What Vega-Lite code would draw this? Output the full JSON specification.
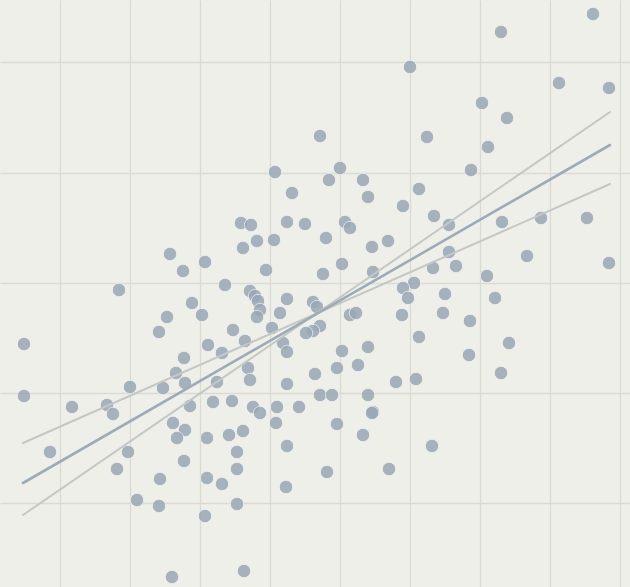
{
  "$schema": "https://vega.github.io/schema/vega-lite/v6.json",
  "width": 630,
  "height": 587,
  "autosize": {"type": "fit", "contains": "padding"},
  "padding": 0,
  "background": "#efefea",
  "config": {
    "view": {"stroke": null},
    "axis": {"labels": false, "ticks": false, "domain": false, "title": null, "grid": true, "gridWidth": 1.3}
  },
  "datasets": {
    "points": [
      {"x": 59.3, "y": 57.3}, {"x": 50.1, "y": 55.5}, {"x": 41.0, "y": 52.0}, {"x": 55.9, "y": 50.4},
      {"x": 60.9, "y": 49.9}, {"x": 48.2, "y": 48.4}, {"x": 50.7, "y": 46.9}, {"x": 32.0, "y": 45.1},
      {"x": 42.7, "y": 45.0}, {"x": 48.8, "y": 44.0}, {"x": 47.1, "y": 41.7}, {"x": 27.5, "y": 41.5},
      {"x": 34.0, "y": 41.9}, {"x": 32.9, "y": 40.7}, {"x": 36.3, "y": 40.7}, {"x": 29.2, "y": 39.4},
      {"x": 36.8, "y": 39.0}, {"x": 41.9, "y": 39.8}, {"x": 40.3, "y": 38.1}, {"x": 43.4, "y": 37.1},
      {"x": 44.9, "y": 36.2}, {"x": 50.2, "y": 36.5}, {"x": 54.1, "y": 36.9}, {"x": 58.7, "y": 36.9},
      {"x": 44.9, "y": 33.5}, {"x": 43.3, "y": 31.9}, {"x": 45.6, "y": 32.1}, {"x": 52.7, "y": 33.1},
      {"x": 60.9, "y": 32.4}, {"x": 48.7, "y": 31.1}, {"x": 44.5, "y": 29.3}, {"x": 49.5, "y": 28.9},
      {"x": 44.3, "y": 27.4}, {"x": 47.0, "y": 26.6}, {"x": 41.9, "y": 25.0}, {"x": 50.9, "y": 24.4},
      {"x": 46.9, "y": 23.2}, {"x": 50.1, "y": 21.4}, {"x": 41.6, "y": 20.8}, {"x": 39.6, "y": 20.5},
      {"x": 43.2, "y": 14.1}, {"x": 41.4, "y": 30.4}, {"x": 40.3, "y": 29.9}, {"x": 40.8, "y": 28.9},
      {"x": 40.2, "y": 27.2}, {"x": 24.1, "y": 36.4}, {"x": 25.1, "y": 36.2}, {"x": 28.7, "y": 36.5},
      {"x": 30.5, "y": 36.3}, {"x": 34.5, "y": 36.5}, {"x": 35.0, "y": 35.9}, {"x": 24.3, "y": 33.9},
      {"x": 25.7, "y": 34.6}, {"x": 27.4, "y": 34.7}, {"x": 32.6, "y": 34.9}, {"x": 37.2, "y": 34.0},
      {"x": 38.8, "y": 34.6}, {"x": 26.6, "y": 31.7}, {"x": 34.2, "y": 32.3}, {"x": 32.3, "y": 31.3},
      {"x": 37.3, "y": 31.5}, {"x": 22.5, "y": 30.2}, {"x": 25.0, "y": 29.6}, {"x": 25.5, "y": 29.1},
      {"x": 25.8, "y": 28.6}, {"x": 28.7, "y": 28.8}, {"x": 19.2, "y": 28.4}, {"x": 20.2, "y": 27.2},
      {"x": 26.0, "y": 27.7}, {"x": 25.7, "y": 27.0}, {"x": 28.0, "y": 27.4}, {"x": 31.3, "y": 28.5},
      {"x": 31.7, "y": 28.0}, {"x": 35.0, "y": 27.2}, {"x": 35.6, "y": 27.4}, {"x": 23.3, "y": 25.7},
      {"x": 27.2, "y": 25.9}, {"x": 32.0, "y": 26.1}, {"x": 31.3, "y": 25.6}, {"x": 30.6, "y": 25.4},
      {"x": 24.5, "y": 24.6}, {"x": 20.8, "y": 24.2}, {"x": 22.2, "y": 23.4}, {"x": 28.3, "y": 24.4},
      {"x": 28.7, "y": 23.5}, {"x": 34.2, "y": 23.6}, {"x": 36.8, "y": 24.0}, {"x": 18.4, "y": 22.9},
      {"x": 24.8, "y": 21.9}, {"x": 25.0, "y": 20.7}, {"x": 33.7, "y": 21.9}, {"x": 35.8, "y": 22.2},
      {"x": 31.5, "y": 21.3}, {"x": 18.5, "y": 20.4}, {"x": 28.7, "y": 20.3}, {"x": 21.7, "y": 20.5},
      {"x": 32.0, "y": 19.2}, {"x": 33.2, "y": 19.2}, {"x": 36.8, "y": 19.2}, {"x": 21.3, "y": 18.5},
      {"x": 23.2, "y": 18.6}, {"x": 19.0, "y": 18.1}, {"x": 25.3, "y": 18.0}, {"x": 26.0, "y": 17.4},
      {"x": 27.7, "y": 18.0}, {"x": 29.9, "y": 18.0}, {"x": 37.3, "y": 17.5}, {"x": 17.0, "y": 33.3},
      {"x": 18.3, "y": 31.6}, {"x": 20.5, "y": 32.5}, {"x": 11.9, "y": 29.7}, {"x": 16.7, "y": 27.0},
      {"x": 15.9, "y": 25.5}, {"x": 2.4, "y": 24.3}, {"x": 17.6, "y": 21.4}, {"x": 16.3, "y": 19.9},
      {"x": 13.0, "y": 20.0}, {"x": 2.4, "y": 19.1}, {"x": 10.7, "y": 18.2}, {"x": 11.3, "y": 17.3},
      {"x": 7.2, "y": 18.0}, {"x": 17.3, "y": 16.4}, {"x": 18.5, "y": 15.7}, {"x": 17.7, "y": 14.9},
      {"x": 20.7, "y": 14.9}, {"x": 22.9, "y": 15.2}, {"x": 12.8, "y": 13.5}, {"x": 5.0, "y": 13.5},
      {"x": 18.4, "y": 12.6}, {"x": 11.7, "y": 11.8}, {"x": 16.0, "y": 10.8}, {"x": 20.7, "y": 10.9},
      {"x": 22.2, "y": 10.3}, {"x": 13.7, "y": 8.7}, {"x": 15.9, "y": 8.1}, {"x": 20.5, "y": 7.1},
      {"x": 17.2, "y": 1.0}, {"x": 27.6, "y": 16.4}, {"x": 37.2, "y": 17.4}, {"x": 33.7, "y": 16.3},
      {"x": 36.3, "y": 15.2}, {"x": 24.3, "y": 15.6}, {"x": 23.7, "y": 13.5}, {"x": 28.7, "y": 14.1},
      {"x": 23.7, "y": 11.8}, {"x": 32.7, "y": 11.5}, {"x": 38.9, "y": 11.8}, {"x": 28.6, "y": 10.0},
      {"x": 23.7, "y": 8.3}, {"x": 24.4, "y": 1.6}
    ],
    "lines": [
      {"line": "steep", "x": 2.3, "y": 7.2}, {"line": "steep", "x": 61.0, "y": 47.5},
      {"line": "mid", "x": 2.3, "y": 10.4}, {"line": "mid", "x": 61.0, "y": 44.2},
      {"line": "flat", "x": 2.3, "y": 14.4}, {"line": "flat", "x": 61.0, "y": 40.3}
    ]
  },
  "layer": [
    {
      "data": {"name": "points"},
      "mark": {"type": "circle", "size": 180, "color": "#99a8b6", "opacity": 0.85, "stroke": "#f4f4f0", "strokeWidth": 0.8},
      "encoding": {
        "x": {
          "field": "x", "type": "quantitative",
          "scale": {"domain": [0, 63], "nice": false, "zero": false},
          "axis": {"values": [6, 13, 20, 27, 34, 41, 48, 55, 62], "gridColor": "#dadad2"}
        },
        "y": {
          "field": "y", "type": "quantitative",
          "scale": {"domain": [0, 58.7], "nice": false, "zero": false},
          "axis": {"values": [8.4, 19.4, 30.4, 41.4, 52.5], "gridColor": "#dcdbd3"}
        }
      }
    },
    {
      "data": {"name": "lines"},
      "transform": [{"filter": "datum.line !== 'mid'"}],
      "mark": {"type": "line", "color": "#c4c7c4", "strokeWidth": 2, "strokeCap": "round"},
      "encoding": {
        "x": {"field": "x", "type": "quantitative"},
        "y": {"field": "y", "type": "quantitative"},
        "detail": {"field": "line", "type": "nominal"}
      }
    },
    {
      "data": {"name": "lines"},
      "transform": [{"filter": "datum.line === 'mid'"}],
      "mark": {"type": "line", "color": "#9dabb8", "strokeWidth": 2.6, "strokeCap": "round"},
      "encoding": {
        "x": {"field": "x", "type": "quantitative"},
        "y": {"field": "y", "type": "quantitative"}
      }
    }
  ]
}
